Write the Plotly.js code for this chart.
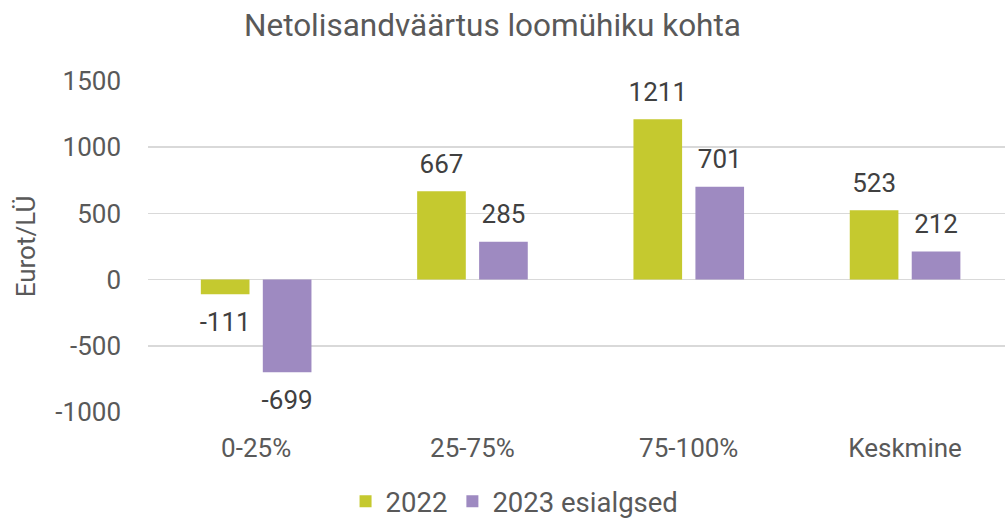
<!DOCTYPE html>
<html>
<head>
<meta charset="utf-8">
<script src="https://cdn.plot.ly/plotly-3.0.1.min.js"></script>
<style>html,body{margin:0;padding:0;background:#fff;}#chart{width:1005px;height:518px;}</style>
</head>
<body>
<div id="chart"></div>
<script>
const categories = ["0-25%", "25-75%", "75-100%", "Keskmine"];
const values2022 = [-111, 667, 1211, 523];
const values2023 = [-699, 285, 701, 212];
const seriesNames = ["2022", "2023 esialgsed"];
const yTicks = [-1000, -500, 0, 500, 1000, 1500];

const font = "Roboto, 'Noto Sans', sans-serif";
const colors = ["#c5c92f", "#9e8ac1"];
const labelPad = 72; // spacing between bar end and its label, in axis units

function barTrace(i, vals) {
  return {
    type: "bar", x: categories, y: vals, name: seriesNames[i],
    offsetgroup: String(i), marker: {color: colors[i]}, hoverinfo: "skip"
  };
}
function labelTrace(i, vals) {
  return {
    type: "bar", x: categories, base: vals,
    y: vals.map(v => (v < 0 ? -labelPad : labelPad)),
    text: vals.map(v => String(v)), texttemplate: "%{text}",
    textposition: "outside", cliponaxis: false, constraintext: "none",
    textfont: {family: font, size: 26, color: "#404040"},
    offsetgroup: String(i), marker: {color: "rgba(0,0,0,0)"},
    showlegend: false, hoverinfo: "skip"
  };
}
const data = [
  barTrace(0, values2022), barTrace(1, values2023),
  labelTrace(0, values2022), labelTrace(1, values2023)
];
const layout = {
  width: 1005, height: 518,
  margin: {l: 148, r: 0, t: 81, b: 106.4},
  paper_bgcolor: "#fff", plot_bgcolor: "#fff",
  font: {family: font, size: 26, color: "#595959"},
  title: {text: "Netolisandväärtus loomühiku kohta", font: {family: font, size: 31.5, color: "#595959"}, x: 0.49, xanchor: "center", xref: "container", y: 0.951, yanchor: "middle", yref: "container"},
  barmode: "group",
  bargap: 0.427,
  bargroupgap: 0.215,
  showlegend: true,
  legend: {orientation: "h", x: 0.512, xanchor: "center", xref: "container", y: 0.032, yanchor: "middle", yref: "container", font: {family: font, size: 27.5, color: "#595959"}, itemwidth: 30, traceorder: "normal"},
  xaxis: {range: [-0.5, 3.462], showgrid: false, zeroline: false, showline: false, ticks: "", ticklabelstandoff: 18, tickfont: {family: font, size: 26, color: "#595959"}, fixedrange: true},
  yaxis: {range: [-1000, 1500], tickvals: yTicks, ticktext: yTicks.map(v => String(v)), showgrid: true, gridcolor: "#d9d9d9", gridwidth: 1.5, zeroline: false, showline: false, ticks: "", ticklabelstandoff: 26, tickfont: {family: font, size: 26, color: "#595959"},
    title: {text: "Eurot/LÜ", standoff: 12, font: {family: font, size: 26, color: "#595959"}}, fixedrange: true}
};
Plotly.newPlot("chart", data, layout, {staticPlot: true, displayModeBar: false});
</script>
</body>
</html>
